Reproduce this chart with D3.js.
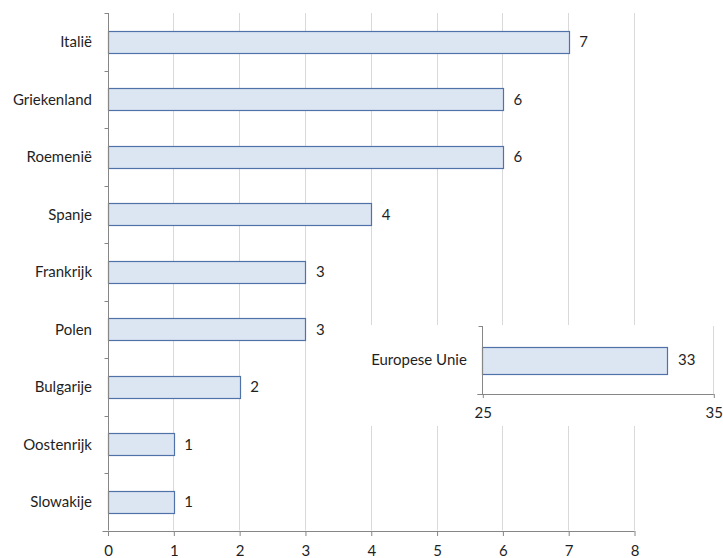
<!DOCTYPE html>
<html>
<head>
<meta charset="utf-8">
<script src="https://cdn.jsdelivr.net/npm/d3@7"></script>
<style>
  html, body { margin: 0; padding: 0; background: #fff; }
  svg { display: block; }
  text { font-family: Lato, "Open Sans", sans-serif; font-size: 15px; fill: #1f1f1f; }
</style>
</head>
<body>
<svg id="chart" width="723" height="558"></svg>
<script>
// ---- data ----
const categories = ["Italië", "Griekenland", "Roemenië", "Spanje", "Frankrijk", "Polen", "Bulgarije", "Oostenrijk", "Slowakije"];
const values = [7, 6, 6, 4, 3, 3, 2, 1, 1];
const xTicks = [0, 1, 2, 3, 4, 5, 6, 7, 8];

const euCategories = ["Europese Unie"];
const euValues = [33];
const euTicks = [25, 35];

// ---- style ----
const barFill = "#dce6f2";
const barStroke = "#4f73a8";
const gridColor = "#d9d9d9";
const axisColor = "#868686";

const svg = d3.select("#chart");
const crisp = v => Math.round(v) + 0.5;

// ---- main chart ----
const x = d3.scaleLinear().domain([0, 8]).range([107.5, 634]);
const y = d3.scaleBand().domain(categories).range([13, 530.5]).paddingInner(0.617).paddingOuter(0.3085);
const step = y.step();
const yTop = 13, yBottom = 530.5;

const main = svg.append("g");

// gridlines
main.append("g").selectAll("line").data(xTicks.filter(t => t > 0)).join("line")
  .attr("x1", d => crisp(x(d))).attr("x2", d => crisp(x(d)))
  .attr("y1", yTop).attr("y2", yBottom)
  .attr("stroke", gridColor).attr("stroke-width", 1);

// bars
main.append("g").selectAll("rect").data(values).join("rect")
  .attr("x", crisp(x(0)))
  .attr("y", (d, i) => crisp(y(categories[i])))
  .attr("width", d => Math.round(x(d) - x(0)))
  .attr("height", Math.round(y.bandwidth()))
  .attr("fill", barFill).attr("stroke", barStroke).attr("stroke-width", 1.2);

// value labels
main.append("g").selectAll("text").data(values).join("text")
  .attr("x", d => x(d) + 11)
  .attr("y", (d, i) => y(categories[i]) + y.bandwidth() / 2)
  .attr("dy", "0.35em")
  .text(d => d);

// x axis
const xAxis = d3.axisBottom(x).tickValues(xTicks).tickSize(5).tickPadding(9).tickFormat(d3.format("d"));
const gx = main.append("g").attr("transform", `translate(0.5,${crisp(yBottom) - 0.5})`).call(xAxis);
gx.select(".domain").attr("stroke", axisColor).attr("d", `M${x(0) - 5.5},0.5H${x(8)}`);
gx.selectAll(".tick line").attr("stroke", axisColor);
gx.selectAll(".tick text").attr("font-family", null).attr("font-size", null).attr("fill", null);

// y axis: line with ticks at band boundaries
const boundaries = d3.range(categories.length + 1).map(i => yTop + i * step);
main.append("line")
  .attr("x1", crisp(x(0))).attr("x2", crisp(x(0)))
  .attr("y1", yTop).attr("y2", yBottom)
  .attr("stroke", axisColor);
main.append("g").selectAll("line").data(boundaries).join("line")
  .attr("x1", crisp(x(0)) - 4).attr("x2", crisp(x(0)))
  .attr("y1", d => crisp(d)).attr("y2", d => crisp(d))
  .attr("stroke", axisColor);
main.append("g").selectAll("text").data(categories).join("text")
  .attr("x", x(0) - 15.5)
  .attr("y", d => y(d) + y.bandwidth() / 2)
  .attr("dy", "0.35em")
  .attr("text-anchor", "end")
  .text(d => d);

// ---- inset ----
const inset = svg.append("g");
inset.append("rect").attr("x", 362).attr("y", 325).attr("width", 361).attr("height", 101).attr("fill", "#fff");

const ix = d3.scaleLinear().domain([25, 35]).range([482.3, 713.3]);
const iy = d3.scaleBand().domain(euCategories).range([326, 394]).paddingInner(0.603).paddingOuter(0.3015);

// gridlines (at 35)
inset.append("g").selectAll("line").data(euTicks.filter(t => t > 25)).join("line")
  .attr("x1", d => crisp(ix(d))).attr("x2", d => crisp(ix(d)))
  .attr("y1", 326).attr("y2", 394)
  .attr("stroke", gridColor);

inset.append("g").selectAll("rect").data(euValues).join("rect")
  .attr("x", crisp(ix(25)))
  .attr("y", (d, i) => crisp(iy(euCategories[i])))
  .attr("width", d => Math.round(ix(d) - ix(25)))
  .attr("height", Math.round(iy.bandwidth()))
  .attr("fill", barFill).attr("stroke", barStroke).attr("stroke-width", 1.2);

inset.append("g").selectAll("text").data(euValues).join("text")
  .attr("x", d => ix(d) + 11)
  .attr("y", (d, i) => iy(euCategories[i]) + iy.bandwidth() / 2)
  .attr("dy", "0.35em")
  .text(d => d);

const ixAxis = d3.axisBottom(ix).tickValues(euTicks).tickSize(4).tickPadding(9).tickFormat(d3.format("d"));
const gix = inset.append("g").attr("transform", `translate(0.5,${crisp(394) - 0.5})`).call(ixAxis);
gix.select(".domain").attr("stroke", axisColor).attr("d", `M${ix(25) - 5.5},0.5H${ix(35)}`);
gix.selectAll(".tick line").attr("stroke", axisColor);
gix.selectAll(".tick text").attr("font-family", null).attr("font-size", null).attr("fill", null);

inset.append("line")
  .attr("x1", crisp(ix(25))).attr("x2", crisp(ix(25)))
  .attr("y1", 326).attr("y2", 394)
  .attr("stroke", axisColor);
inset.append("line")
  .attr("x1", crisp(ix(25)) - 4).attr("x2", crisp(ix(25)))
  .attr("y1", crisp(326)).attr("y2", crisp(326))
  .attr("stroke", axisColor);
inset.append("g").selectAll("text").data(euCategories).join("text")
  .attr("x", ix(25) - 15.5)
  .attr("y", d => iy(d) + iy.bandwidth() / 2)
  .attr("dy", "0.35em")
  .attr("text-anchor", "end")
  .text(d => d);
</script>
</body>
</html>
